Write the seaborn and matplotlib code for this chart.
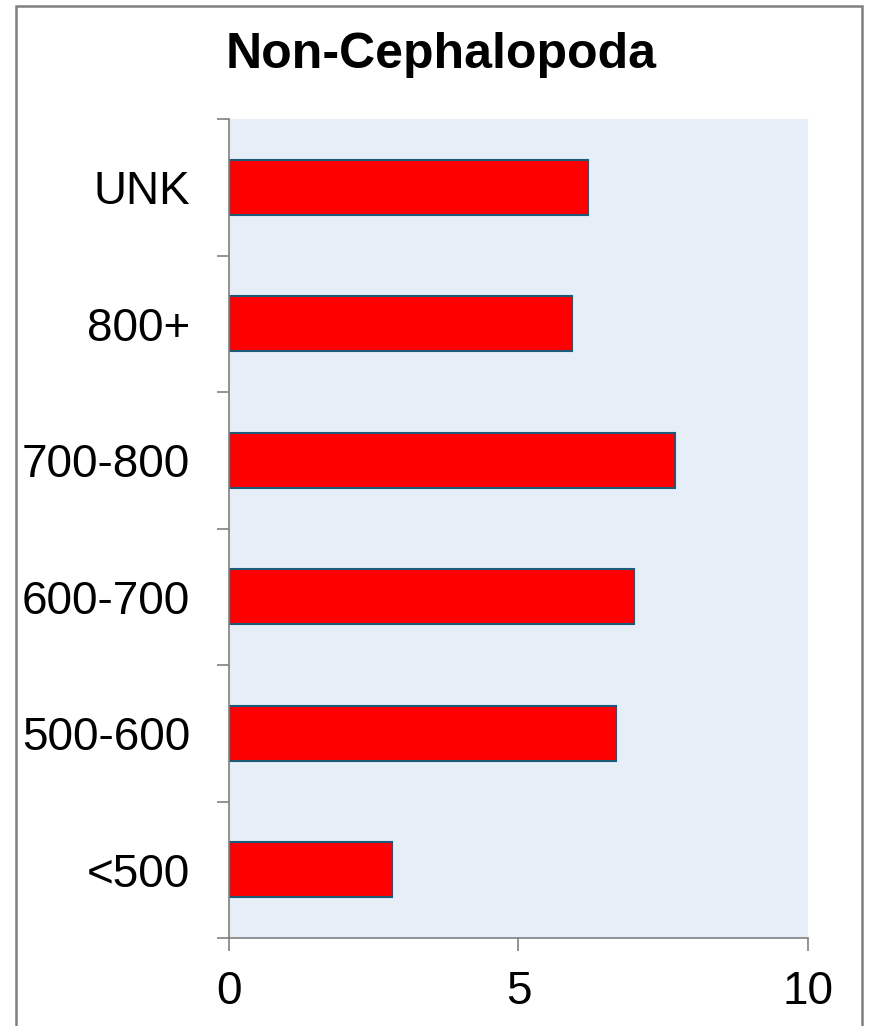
import matplotlib
matplotlib.use("Agg")
import matplotlib.pyplot as plt
import seaborn as sns
import pandas as pd
from matplotlib.patches import Rectangle

# Size classes (top to bottom) and their values
categories = ["UNK", "800+", "700-800", "600-700", "500-600", "<500"]
values = [6.2, 5.92, 7.7, 7.0, 6.68, 2.82]
x_ticks = [0, 5, 10]

sns.set_theme(style="white")
plt.rcParams["font.family"] = ["Liberation Sans", "DejaVu Sans"]

df = pd.DataFrame({"size": categories, "value": values})

fig = plt.figure(figsize=(8.7, 10.26), dpi=100)
ax = fig.add_axes([229 / 870, 1 - 938 / 1026, (808 - 229) / 870, (938 - 119) / 1026])
ax.set_facecolor("#E6EEF8")

sns.barplot(data=df, x="value", y="size", order=categories, orient="h",
            color="#FF0000", saturation=1, width=0.4,
            edgecolor="#1B5B78", linewidth=1.5, ax=ax)

ax.set_xlim(0, 10)
ax.set_ylim(len(categories) - 0.5, -0.5)
ax.set_xticks(x_ticks)
ax.set_xticklabels([str(t) for t in x_ticks])

# Category boundaries carry the tick marks; labels sit at the centres
ax.set_yticks([i - 0.5 for i in range(len(categories) + 1)])
ax.set_yticklabels([])
ax.set_yticks(range(len(categories)), minor=True)
ax.set_yticklabels(categories, minor=True)
ax.tick_params(axis="y", which="major", length=9, width=1.2, color="#808080", direction="out", left=True)
ax.tick_params(axis="y", which="minor", length=0, pad=28, labelsize=33, labelcolor="black")
ax.tick_params(axis="x", which="major", length=9, width=1.2, color="#808080", direction="out",
               bottom=True, pad=14, labelsize=33, labelcolor="black")

ax.set_xlabel("")
ax.set_ylabel("")
for side in ["top", "right"]:
    ax.spines[side].set_visible(False)
for side in ["left", "bottom"]:
    ax.spines[side].set_color("#808080")
    ax.spines[side].set_linewidth(1.2)

fig.text(441 / 870, 1 - 68 / 1026, "Non-Cephalopoda", ha="center", va="baseline",
         fontsize=36, fontweight="bold", color="black")

# Outer frame around the chart
fig.patches.append(Rectangle((16 / 870, -0.05), (862 - 16) / 870, 1.05 - 6 / 1026,
                             transform=fig.transFigure, fill=False,
                             edgecolor="#7F7F7F", linewidth=1.8))

fig.savefig("out.png", dpi=100)
